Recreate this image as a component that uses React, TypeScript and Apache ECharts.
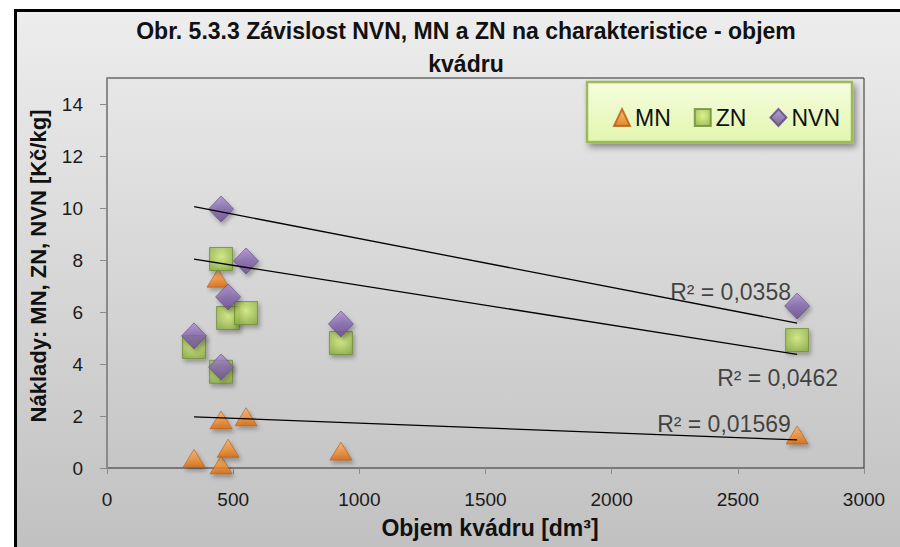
import React, { useEffect, useRef } from "react";
import * as echarts from "echarts";

// ---- data ----
const volumeMN = [345, 440, 452, 452, 480, 551, 927, 2735];
const costMN = [0.37, 7.3, 1.85, 0.12, 0.76, 1.97, 0.65, 1.27];
const volumeZN = [345, 452, 452, 480, 551, 927, 2735];
const costZN = [4.65, 8.04, 3.7, 5.77, 5.96, 4.81, 4.92];
const volumeNVN = [345, 452, 452, 480, 551, 927, 2735];
const costNVN = [5.08, 9.96, 3.88, 6.58, 7.96, 5.54, 6.23];

const trendX = [345, 2735];
const trendMN = [1.97, 1.08];
const trendZN = [8.03, 4.37];
const trendNVN = [10.05, 5.57];
const r2Texts = ["R² = 0,01569", "R² = 0,0462", "R² = 0,0358"];

const seriesNames = ["MN", "ZN", "NVN"];
const xTicks = { min: 0, max: 3000, step: 500 };
const yTicks = { min: 0, max: 15, step: 2 };

const titleText = "Obr. 5.3.3 Závislost NVN, MN a ZN na charakteristice - objem\nkvádru";
const xTitle = "Objem kvádru [dm³]";
const yTitle = "Náklady: MN, ZN, NVN [Kč/kg]";

const FONT = "'Liberation Sans', Arial, sans-serif";

const lin = (stops: [number, string][], x2 = 0, y2 = 1) => ({
  type: "linear",
  x: 0,
  y: 0,
  x2,
  y2,
  colorStops: stops.map(([offset, color]) => ({ offset, color })),
});

const markerShadow = {
  shadowBlur: 4,
  shadowOffsetX: 2,
  shadowOffsetY: 3,
  shadowColor: "rgba(0,0,0,0.35)",
};

function buildOption() {
  const pairs = (xs: number[], ys: number[]) => xs.map((x, i) => [x, ys[i]]);
  const trend = (ys: number[]) => ({
    type: "line",
    data: pairs(trendX, ys),
    symbol: "none",
    silent: true,
    z: 6,
    lineStyle: { color: "#000", width: 1.3 },
  });
  const labelOffsets = [
    [-140, -16],
    [-80, 24],
    [-127, -31],
  ];
  const ends = [trendMN, trendZN, trendNVN];

  return {
    animation: false,
    backgroundColor: "#ffffff",
    textStyle: { fontFamily: FONT },
    graphic: [
      {
        type: "rect",
        z: -10,
        silent: true,
        shape: { x: 15.5, y: 10.5, width: 900, height: 560 },
        style: {
          fill: lin([
            [0, "#ededed"],
            [1, "#bfbfbf"],
          ]),
          stroke: "#000",
          lineWidth: 3,
        },
      },
      {
        type: "rect",
        z: 8,
        silent: true,
        shape: { x: 587, y: 82, width: 265, height: 60 },
        style: {
          fill: lin([
            [0, "#f6fde0"],
            [1, "#e2f6ae"],
          ]),
          stroke: "#9bbb59",
          lineWidth: 2.5,
          shadowBlur: 6,
          shadowOffsetX: 3,
          shadowOffsetY: 4,
          shadowColor: "rgba(0,0,0,0.4)",
        },
      },
      {
        type: "text",
        z: 10,
        x: 466,
        y: 47,
        style: {
          text: titleText,
          align: "center",
          verticalAlign: "middle",
          font: `bold 23px ${FONT}`,
          lineHeight: 33,
          fill: "#111",
        },
      },
      {
        type: "text",
        z: 10,
        x: 490,
        y: 528,
        style: {
          text: xTitle,
          align: "center",
          verticalAlign: "middle",
          font: `bold 23px ${FONT}`,
          fill: "#111",
        },
      },
      {
        type: "text",
        z: 10,
        x: 38,
        y: 266,
        rotation: Math.PI / 2,
        style: {
          text: yTitle,
          align: "center",
          verticalAlign: "middle",
          font: `bold 22px ${FONT}`,
          fill: "#111",
        },
      },
    ],
    legend: {
      data: seriesNames,
      left: 608,
      top: 101,
      z: 12,
      itemWidth: 16,
      itemHeight: 17,
      itemGap: 23,
      textStyle: { fontSize: 23, color: "#111", fontFamily: FONT },
    },
    grid: {
      left: 107,
      right: 36,
      top: 78,
      bottom: 79,
      show: true,
      backgroundColor: lin([
        [0, "#e7e7e7"],
        [1, "#c6c6c6"],
      ]),
      borderColor: "#2a2a2a",
      borderWidth: 1,
    },
    xAxis: {
      type: "value",
      min: xTicks.min,
      max: xTicks.max,
      interval: xTicks.step,
      splitLine: { show: false },
      axisLine: {
        lineStyle: {
          color: "#8a8a8a",
          width: 3,
          shadowBlur: 3,
          shadowOffsetY: 2,
          shadowColor: "rgba(0,0,0,0.3)",
        },
      },
      axisTick: { show: true, length: 6, lineStyle: { color: "#8a8a8a", width: 1 } },
      axisLabel: {
        fontSize: 19,
        color: "#1a1a1a",
        margin: 22,
        fontFamily: FONT,
        formatter: (v: number) => String(v),
      },
    },
    yAxis: {
      type: "value",
      min: yTicks.min,
      max: yTicks.max,
      interval: yTicks.step,
      splitLine: { show: false },
      axisLine: { show: true, lineStyle: { color: "#8a8a8a", width: 2 } },
      axisTick: { show: true, length: 7, lineStyle: { color: "#8a8a8a", width: 1 } },
      axisLabel: {
        fontSize: 19,
        color: "#1a1a1a",
        margin: 24,
        fontFamily: FONT,
        showMaxLabel: false,
        formatter: (v: number) => (v % yTicks.step === 0 ? String(v) : ""),
      },
    },
    series: [
      {
        name: "MN",
        type: "scatter",
        symbol: "triangle",
        symbolSize: [22, 18],
        z: 3,
        data: pairs(volumeMN, costMN),
        itemStyle: {
          color: lin([
            [0, "#fbb067"],
            [0.6, "#f08a2c"],
            [1, "#d8690f"],
          ]),
          borderColor: "#b85c10",
          borderWidth: 0.8,
          ...markerShadow,
        },
      },
      {
        name: "ZN",
        type: "scatter",
        symbol: "rect",
        symbolSize: 23,
        z: 4,
        data: pairs(volumeZN, costZN),
        itemStyle: {
          color: {
            type: "radial",
            x: 0.5,
            y: 0.4,
            r: 0.7,
            colorStops: [
              { offset: 0, color: "#d9f27f" },
              { offset: 1, color: "#8aad41" },
            ],
          },
          borderColor: "#6f8c34",
          borderWidth: 1,
          ...markerShadow,
        },
      },
      {
        name: "NVN",
        type: "scatter",
        symbol: "diamond",
        symbolSize: [25, 26],
        z: 5,
        data: pairs(volumeNVN, costNVN),
        itemStyle: {
          color: lin([
            [0, "#ab90d2"],
            [0.5, "#8466ad"],
            [1, "#674b8e"],
          ]),
          borderColor: "#5e4585",
          borderWidth: 0.8,
          ...markerShadow,
        },
      },
      { ...trend(trendMN), name: "trendMN" },
      { ...trend(trendZN), name: "trendZN" },
      { ...trend(trendNVN), name: "trendNVN" },
      {
        name: "R2",
        type: "scatter",
        symbolSize: 1,
        silent: true,
        z: 7,
        itemStyle: { color: "rgba(0,0,0,0)" },
        data: ends.map((ys, i) => ({
          value: [trendX[1], ys[1]],
          label: { offset: labelOffsets[i] },
        })),
        label: {
          show: true,
          position: "inside",
          align: "left",
          verticalAlign: "middle",
          fontSize: 23,
          color: "#1a1a1a",
          fontFamily: FONT,
          formatter: (p: any) => r2Texts[p.dataIndex],
        },
      },
    ],
  };
}

export default function App() {
  const ref = useRef<HTMLDivElement>(null);
  useEffect(() => {
    if (!ref.current) return;
    const chart = echarts.init(ref.current, null, { renderer: "svg" });
    chart.setOption(buildOption() as any);
    return () => chart.dispose();
  }, []);
  return (
    <div
      ref={ref}
      style={{ position: "fixed", left: 0, top: 0, width: 900, height: 547 }}
    />
  );
}
